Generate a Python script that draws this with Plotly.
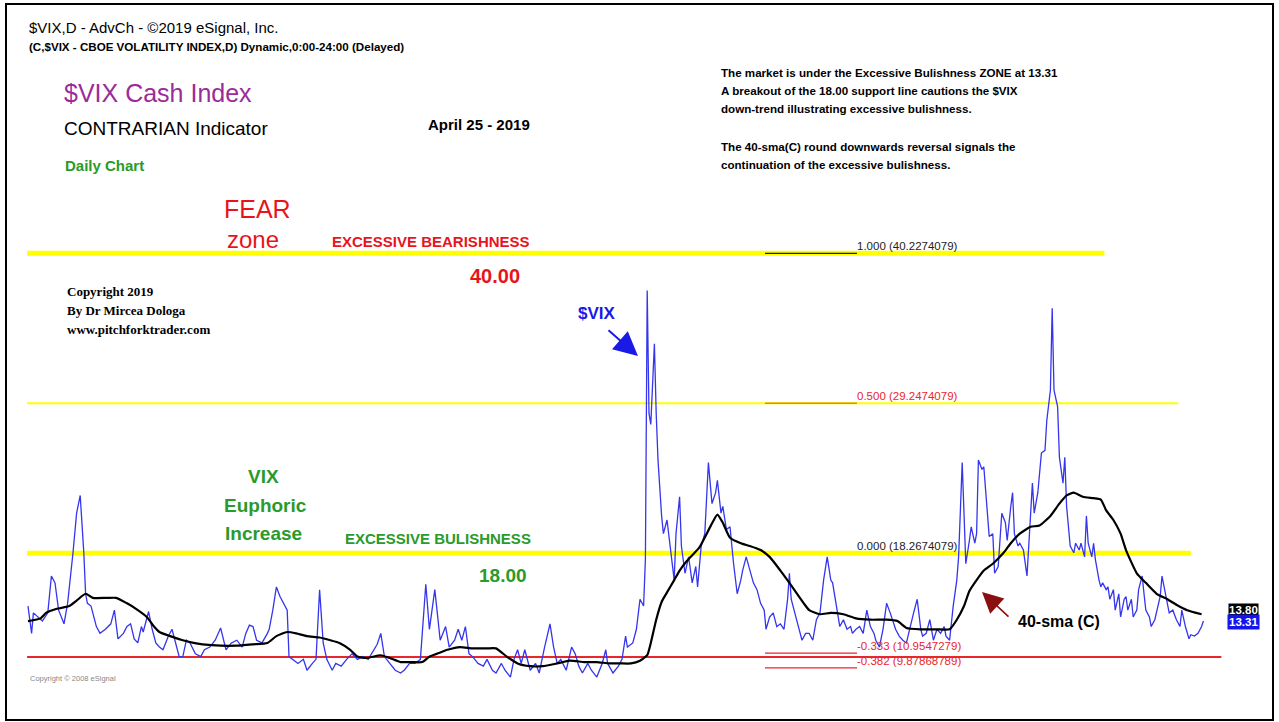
import plotly.graph_objects as go

W, H = 1279, 722

# trading-day index (0 = late Sep 2016 ... 653 = Apr 25 2019) and $VIX daily close
vix_day = [
    0, 2, 3, 6, 8, 11, 13, 15, 17, 20, 22, 25, 27, 29, 31, 32, 33, 35, 37, 38,
    40, 43, 46, 48, 50, 53, 55, 57, 59, 61, 63, 64, 67, 69, 71, 73, 75, 78, 80, 82,
    84, 86, 88, 90, 93, 96, 98, 101, 104, 107, 108, 110, 113, 116, 119, 121, 123, 125, 127, 130,
    133, 134, 136, 138, 140, 142, 144, 145, 147, 150, 153, 155, 158, 160, 162, 164, 166, 169, 171, 174,
    177, 180, 183, 186, 189, 192, 194, 196, 198, 201, 204, 207, 209, 212, 215, 218, 221, 223, 226, 229,
    232, 234, 237, 239, 241, 243, 245, 247, 250, 253, 255, 258, 260, 263, 265, 268, 270, 272, 274, 276,
    279, 282, 284, 287, 290, 292, 294, 296, 299, 302, 304, 306, 308, 311, 313, 316, 319, 321, 322, 325,
    328, 330, 332, 333, 336, 338, 340, 342, 343, 344, 345, 346, 348, 349, 350, 352, 353, 355, 357, 359,
    360, 362, 363, 365, 367, 369, 371, 372, 374, 376, 378, 379, 380, 382, 383, 385, 386, 388, 390, 392,
    394, 396, 397, 399, 401, 403, 405, 407, 409, 410, 412, 414, 416, 418, 420, 422, 423, 424, 426, 428,
    430, 432, 434, 436, 438, 440, 442, 444, 446, 447, 449, 451, 453, 455, 457, 458, 460, 462, 464, 466,
    468, 470, 471, 473, 475, 477, 479, 481, 482, 484, 486, 488, 490, 492, 494, 496, 497, 499, 501, 503,
    505, 507, 509, 510, 512, 514, 516, 517, 519, 520, 521, 523, 524, 526, 527, 528, 530, 531, 533, 534,
    536, 537, 539, 540, 541, 543, 544, 546, 547, 548, 550, 551, 553, 555, 557, 558, 559, 561, 563, 565,
    566, 568, 569, 570, 572, 573, 575, 576, 577, 578, 579, 581, 582, 584, 585, 587, 588, 589, 591, 592,
    593, 595, 596, 597, 599, 600, 601, 603, 604, 606, 607, 609, 610, 611, 613, 614, 616, 617, 619, 620,
    621, 623, 624, 626, 628, 629, 630, 632, 633, 634, 636, 638, 640, 641, 643, 645, 646, 648, 650, 652,
    653,
]
vix_close = [
    14.4, 12.4, 13.9, 13.5, 13.3, 13.9, 16.6, 16.1, 14.1, 13.1, 14.6, 18.3, 21.2, 22.5, 18.3, 15.3, 14.6, 14.4, 13.4, 12.9,
    12.4, 12.7, 13.1, 14.1, 12.0, 12.4, 12.9, 13.1, 12.0, 11.7, 12.9, 12.5, 14.0, 12.7, 11.7, 11.4, 11.2, 12.2, 12.7, 11.7,
    10.7, 10.7, 11.9, 11.7, 10.9, 10.7, 11.2, 11.4, 11.9, 12.8, 12.2, 11.2, 11.7, 11.9, 11.4, 12.4, 13.0, 12.9, 11.9, 11.7,
    12.4, 12.7, 14.1, 15.8, 15.1, 14.6, 14.1, 10.7, 10.5, 10.2, 10.5, 9.7, 10.2, 10.5, 15.6, 11.7, 10.5, 9.7, 10.2, 10.0,
    10.5, 10.9, 10.5, 10.7, 10.5, 11.2, 11.6, 12.4, 10.7, 10.2, 9.7, 9.5, 9.7, 10.2, 10.2, 10.5, 16.0, 12.7, 15.6, 11.9,
    12.9, 11.4, 11.9, 12.7, 11.9, 12.9, 10.9, 10.7, 10.2, 10.0, 10.5, 9.7, 9.5, 10.2, 9.7, 9.2, 10.5, 11.2, 10.2, 11.2,
    9.7, 10.2, 9.5, 11.4, 13.1, 11.4, 10.2, 10.5, 9.7, 11.4, 10.9, 10.0, 9.5, 10.2, 9.7, 9.2, 10.2, 11.2, 10.2, 9.5,
    10.0, 10.5, 12.2, 11.4, 11.7, 12.7, 14.9, 14.4, 17.8, 37.5, 28.5, 27.7, 33.6, 28.5, 25.1, 21.0, 19.7, 20.7, 18.3, 16.3,
    19.7, 22.4, 18.8, 16.8, 18.0, 16.1, 17.3, 15.8, 18.8, 19.7, 24.9, 23.1, 21.9, 22.7, 23.6, 21.2, 21.7, 20.0, 20.2, 17.5,
    15.3, 16.3, 17.0, 18.0, 17.0, 16.1, 15.6, 14.6, 14.1, 12.7, 13.6, 13.9, 12.9, 13.1, 12.7, 14.9, 16.8, 14.9, 13.9, 12.9,
    11.9, 12.4, 12.4, 11.9, 13.4, 13.9, 16.3, 18.0, 16.3, 16.1, 14.6, 12.9, 13.4, 12.7, 12.9, 12.4, 12.7, 12.9, 12.4, 14.1,
    12.9, 12.4, 11.9, 11.4, 12.7, 14.6, 13.9, 13.1, 12.7, 12.2, 11.9, 11.7, 12.9, 13.9, 14.9, 12.7, 12.2, 12.4, 13.4, 11.9,
    12.7, 12.4, 12.9, 12.2, 11.9, 14.4, 16.3, 18.0, 24.9, 21.2, 17.5, 19.2, 20.2, 19.0, 19.7, 25.1, 24.4, 24.6, 21.2, 19.5,
    19.7, 16.8, 17.3, 19.7, 21.2, 20.5, 19.2, 21.7, 22.7, 19.7, 18.8, 19.0, 18.5, 16.6, 21.2, 23.4, 21.2, 22.7, 25.6, 25.8,
    28.0, 30.2, 36.2, 30.2, 29.0, 25.3, 23.4, 25.3, 21.7, 20.2, 18.8, 18.3, 19.0, 18.5, 19.0, 18.0, 21.0, 19.0, 18.0, 19.0,
    17.8, 16.3, 15.8, 16.1, 15.6, 15.8, 14.9, 15.6, 14.1, 15.3, 13.6, 14.9, 15.1, 14.1, 14.9, 13.6, 14.1, 15.6, 16.6, 15.3,
    14.1, 13.6, 12.9, 13.4, 14.4, 15.1, 16.6, 15.1, 14.4, 13.9, 14.1, 13.4, 12.9, 14.1, 12.9, 12.0, 12.3, 12.2, 12.4, 12.9,
    13.31,
]

# 40-day simple moving average of the close, as drawn
sma_day = [
    0, 7, 10, 16, 23, 27, 32, 36, 44, 49, 55, 60, 66, 70, 73, 79, 86, 92, 97, 107,
    116, 125, 133, 138, 144, 149, 155, 162, 168, 173, 179, 183, 188, 196, 201, 207, 213, 219, 223, 227,
    233, 240, 247, 255, 260, 266, 272, 279, 286, 294, 301, 309, 316, 323, 329, 335, 340, 344, 346, 349,
    352, 355, 359, 362, 366, 373, 379, 383, 386, 390, 396, 401, 407, 412, 418, 423, 431, 434, 440, 446,
    453, 460, 468, 477, 483, 488, 496, 505, 512, 516, 520, 523, 527, 531, 536, 542, 546, 551, 557, 562,
    568, 573, 577, 581, 586, 592, 596, 599, 603, 607, 610, 616, 621, 627, 633, 638, 644, 652,
]
sma_val = [
    13.3, 13.5, 13.9, 14.2, 14.4, 14.8, 15.3, 15.0, 15.0, 15.0, 14.6, 14.2, 13.6, 12.9, 12.5, 12.2, 11.9, 11.7, 11.6, 11.5,
    11.5, 11.6, 11.7, 12.2, 12.5, 12.4, 12.2, 12.1, 11.9, 11.7, 11.2, 10.7, 10.6, 10.8, 10.6, 10.3, 10.3, 10.3, 10.7, 10.9,
    11.2, 11.4, 11.3, 11.3, 11.3, 10.7, 10.2, 10.0, 10.0, 10.2, 10.4, 10.3, 10.3, 10.2, 10.2, 10.2, 10.4, 10.8, 11.7, 13.4,
    14.7, 15.4, 16.3, 17.0, 17.7, 18.7, 20.2, 21.1, 20.5, 19.4, 19.0, 18.8, 18.5, 18.0, 17.0, 16.1, 14.6, 14.1, 13.8, 13.9,
    13.8, 13.5, 13.4, 13.4, 13.3, 12.8, 12.7, 12.7, 12.7, 13.4, 14.4, 15.5, 16.3, 17.0, 17.5, 18.3, 19.0, 19.7, 20.2, 20.3,
    21.0, 21.9, 22.5, 22.7, 22.4, 22.3, 22.2, 21.4, 20.7, 19.7, 18.5, 16.8, 16.1, 15.3, 14.9, 14.5, 14.1, 13.8,
]

# fibonacci ratios drawn from the 40.23 / 18.27 swing
fib_ratio = ["1.000", "0.500", "0.000", "-0.333", "-0.382"]
fib_level = [40.2274079, 29.2474079, 18.2674079, 10.9547279, 9.87868789]
fib_level_text = ["40.2274079", "29.2474079", "18.2674079", "10.9547279", "9.87868789"]
fib_text_color = ["#222222", "#e8262c", "#222222", "#e8262c", "#e8262c"]
fib_line_color = ["#222222", "#e88a00", "#ffff00", "#e8262c", "#e8262c"]

# hand drawn zone lines: level, right end (trading day), colour, width
zone_level = [40.2274079, 29.2474079, 18.2674079, 10.67]
zone_end = [598, 639, 646, 663]
zone_color = ["#ffff00", "#ffff00", "#ffff00", "#e8262c"]
zone_width = [5, 2, 5, 2]

last_close = "13.31"
last_sma = "13.80"

# screen geometry of the eSignal window
X0_PX, PX_PER_DAY = 28, 1.8
V_TOP, V_PER_PX = 58.77, 0.07321

SANS = "Liberation Sans, Arial, sans-serif"
SERIF = "Liberation Serif, Times New Roman, serif"
GREEN = "#2a9a2a"
RED = "#e8141c"


def day_at(px):
    return (px - X0_PX) / PX_PER_DAY


annotations = []


def label(s, x, y, size, color="black", family=SANS, bold=False, xanchor="left", **kw):
    annotations.append(dict(
        text=f"<b>{s}</b>" if bold else s,
        x=x / W, y=1 - y / H, xref="paper", yref="paper",
        xanchor=xanchor, yanchor="middle", showarrow=False,
        font=dict(family=family, size=size, color=color), **kw))


fig = go.Figure()

fig.add_trace(go.Scatter(x=vix_day, y=vix_close, mode="lines",
                         line=dict(color="#3535ee", width=1.3), name="$VIX"))
fig.add_trace(go.Scatter(x=sma_day, y=sma_val, mode="lines",
                         line=dict(color="black", width=2.2, shape="spline", smoothing=0.5),
                         name="40-sma (C)"))

shapes = []
for lvl, end, col, wd in zip(zone_level, zone_end, zone_color, zone_width):
    shapes.append(dict(type="line", xref="x", yref="y", x0=-0.5, x1=end, y0=lvl, y1=lvl,
                       line=dict(color=col, width=wd), layer="below"))

fib_x0, fib_x1 = day_at(765), day_at(857)
for ratio, lvl, txt, tcol, lcol in zip(fib_ratio, fib_level, fib_level_text,
                                       fib_text_color, fib_line_color):
    if ratio != "0.000":
        shapes.append(dict(type="line", xref="x", yref="y", x0=fib_x0, x1=fib_x1, y0=lvl, y1=lvl,
                           line=dict(color=lcol, width=1.3), layer="below"))
    annotations.append(dict(
        text=f"{ratio} ({txt})",
        x=fib_x1, y=lvl, xref="x", yref="y", xanchor="left", yanchor="bottom",
        showarrow=False, xshift=-2, yshift=-1,
        font=dict(family=SANS, size=11.5, color=tcol)))

# window frame
shapes.append(dict(type="rect", xref="paper", yref="paper", x0=6 / W, x1=1273 / W,
                   y0=1 - 720 / H, y1=1 - 4 / H, line=dict(color="black", width=2)))

# header
label("$VIX,D - AdvCh - ©2019 eSignal, Inc.", 27, 28, 15)
label("(C,$VIX - CBOE VOLATILITY INDEX,D) Dynamic,0:00-24:00 (Delayed)", 27, 46, 11.6,
      bold=True)

# title block
label("$VIX Cash Index", 62, 93, 25, color="#9a2c9a")
label("CONTRARIAN Indicator", 62, 129, 19)
label("Daily Chart", 63, 165, 15, color=GREEN, bold=True)
label("April 25 - 2019", 426, 124, 15, bold=True)

# commentary
comment = [
    ("The market is under the Excessive Bulishness ZONE at 13.31", 72),
    ("A breakout of the 18.00 support line cautions the $VIX", 90),
    ("down-trend illustrating excessive bulishness.", 108),
    ("The 40-sma(C) round downwards reversal signals the", 146),
    ("continuation of the excessive bulishness.", 164),
]
for s, y in comment:
    label(s, 719, y, 11.6, bold=True)

# zones
label("FEAR", 257, 209, 25, color=RED, xanchor="center")
label("zone", 253, 239, 24, color=RED, xanchor="center")
label("EXCESSIVE BEARISHNESS", 330, 241, 15, color=RED, bold=True)
label("40.00", 495, 276, 20, color=RED, bold=True, xanchor="center")
label("Copyright 2019", 65, 291, 13, family=SERIF, bold=True)
label("By Dr Mircea Dologa", 65, 310, 13, family=SERIF, bold=True)
label("www.pitchforktrader.com", 65, 329, 13, family=SERIF, bold=True)

label("VIX", 263, 476, 19, color=GREEN, bold=True, xanchor="center")
label("Euphoric", 265, 505, 19, color=GREEN, bold=True, xanchor="center")
label("Increase", 263, 533, 19, color=GREEN, bold=True, xanchor="center")
label("EXCESSIVE BULISHNESS", 343, 538, 15, color=GREEN, bold=True)
label("18.00", 503, 575, 19, color=GREEN, bold=True, xanchor="center")

label("Copyright © 2008 eSignal", 28, 678, 7.5, color="#888888")

# $VIX pointer
label("$VIX", 597, 313, 17, color="#1a1ae6", bold=True, xanchor="center")
annotations.append(dict(x=638 / W, y=1 - 356 / H, xref="paper", yref="paper",
                        ax=-31, ay=-27, showarrow=True, arrowhead=2, arrowsize=2.4,
                        arrowwidth=2, arrowcolor="#1a1ae6", text=""))

# 40-sma pointer
label("40-sma (C)", 1016, 621, 16, bold=True)
annotations.append(dict(x=982 / W, y=1 - 592 / H, xref="paper", yref="paper",
                        ax=28, ay=26, showarrow=True, arrowhead=2, arrowsize=2.6,
                        arrowwidth=1.6, arrowcolor="#8b0f0f", text=""))

# last value tags (the close tag sits over the sma tag, as in eSignal)
label(last_sma, 1243, 610, 11.5, color="white", bold=True, xanchor="center",
      bgcolor="black", borderpad=0)
label(last_close, 1243, 622, 11.5, color="white", bold=True, xanchor="center",
      bgcolor="#1414ee", borderpad=1)

fig.update_layout(
    width=W, height=H,
    margin=dict(l=0, r=0, t=0, b=0, autoexpand=False),
    paper_bgcolor="white", plot_bgcolor="white",
    showlegend=False,
    shapes=shapes, annotations=annotations,
    xaxis=dict(range=[day_at(0), day_at(W)], visible=False, fixedrange=True),
    yaxis=dict(range=[V_TOP - V_PER_PX * H, V_TOP], visible=False, fixedrange=True),
)

# the page body has a default 8px margin; drop it so the chart fills the window
fig.write_html("out.html", config={"displayModeBar": False},
               post_script="document.body.style.margin='0';")
